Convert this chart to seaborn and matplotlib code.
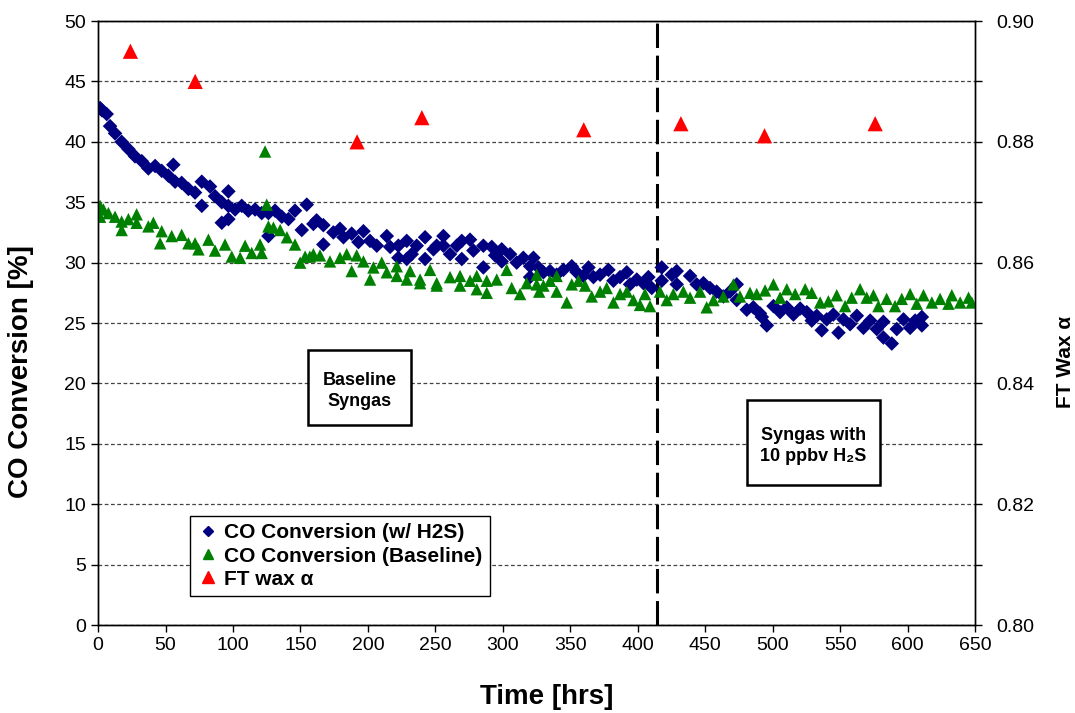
import matplotlib
matplotlib.use("Agg")
import matplotlib.pyplot as plt
import seaborn as sns
import pandas as pd
from matplotlib.lines import Line2D
from matplotlib.patches import Rectangle
from matplotlib.ticker import MultipleLocator, FormatStrFormatter

sns.set_style("ticks")
plt.rcParams['font.family'] = ['Liberation Sans', 'DejaVu Sans']
plt.rcParams['text.color'] = 'black'
plt.rcParams['axes.labelcolor'] = 'black'
plt.rcParams['xtick.color'] = 'black'
plt.rcParams['ytick.color'] = 'black'

# ---------------- data ----------------
h2s_time = [1.5, 3, 6.4, 8.9, 12.6, 17.5, 22.5, 27.4, 32.4, 37.3, 42.3, 47.2, 52.1, 55.8, 57.1,
            62, 67, 71.9, 76.9, 76.9, 83, 86.7, 91.7, 91.7, 96.6, 96.6, 96.6, 101.6, 106.5, 111.4,
            116.4, 121.3, 126.3, 126.3, 131.2, 136.2, 141.1, 146, 151, 154.7, 159.6, 162, 167, 167,
            174.4, 179.3, 181.9, 188, 193, 196.7, 201.6, 206.6, 214, 216.5, 222.6, 222.6, 228.8, 228.8,
            232.5, 236.2, 242.4, 242.4, 248.6, 251, 256, 256, 260.9, 265.9, 269.6, 269.6, 275.7, 278.2,
            285.6, 285.6, 291.8, 294.3, 299.2, 299.2, 305.4, 310.3, 315.2, 320.2, 320.2, 322.7, 326.4,
            330.1, 335, 339.9, 344.9, 351.1, 354.8, 359.7, 363.5, 367.2, 372.1, 378.3, 382, 386.9,
            391.9, 394.3, 399.3, 404.2, 407.9, 410.4, 417.8, 417.8, 425.2, 428.9, 428.9, 438.8, 443.7,
            448.7, 453.6, 458.5, 463.5, 468.4, 473.4, 473.4, 480.8, 485.7, 490.6, 492, 495.7, 500.6,
            505.5, 510.5, 515.4, 520.4, 525.3, 529, 532.7, 536.4, 540.1, 545, 548.8, 552.5, 557.4,
            562.4, 567.3, 572.3, 577.2, 582.1, 582.1, 588.3, 592, 597, 601.9, 605.6, 610.6, 610.6]
h2s_conv = [42.8, 42.6, 42.3, 41.3, 40.7, 40.0, 39.4, 38.8, 38.4, 37.8, 38.0, 37.6, 37.2, 38.1, 36.7,
            36.6, 36.1, 35.8, 36.7, 34.7, 36.3, 35.5, 35.0, 33.3, 35.9, 34.7, 33.6, 34.4, 34.7, 34.3,
            34.4, 34.1, 34.1, 32.2, 34.3, 33.8, 33.6, 34.3, 32.7, 34.8, 33.2, 33.5, 31.5, 33.1,
            32.5, 32.8, 32.1, 32.4, 31.7, 32.6, 31.8, 31.4, 32.2, 31.3, 31.4, 30.4, 31.8, 30.3,
            30.7, 31.4, 32.1, 30.3, 31.1, 31.4, 32.2, 31.4, 30.7, 31.4, 31.8, 30.3, 31.9, 31.0,
            31.4, 29.6, 31.3, 30.6, 31.1, 30.1, 30.7, 30.0, 30.4, 29.7, 28.8, 30.4, 29.6,
            29.2, 29.3, 29.0, 29.4, 29.7, 29.2, 28.9, 29.6, 28.8, 29.0, 29.4, 28.5, 28.8,
            29.2, 28.2, 28.6, 28.3, 28.8, 27.9, 29.6, 28.5, 29.0, 29.3, 28.2, 28.9, 28.2,
            28.3, 27.9, 27.6, 27.2, 27.6, 28.2, 26.9, 26.1, 26.3, 25.8, 25.5, 24.8, 26.4,
            25.9, 26.3, 25.7, 26.2, 25.9, 25.2, 25.6, 24.4, 25.3, 25.7, 24.2, 25.3, 24.9,
            25.6, 24.6, 25.2, 24.5, 25.1, 23.8, 23.3, 24.5, 25.3, 24.6, 25.2, 25.5, 24.8]

base_time = [1.5, 1.5, 4, 7.7, 12.6, 17.5, 17.5, 22.5, 28.6, 28.6, 37.3, 41, 46, 47.2, 54.6, 62, 67,
             71.9, 74.4, 81.8, 86.7, 94.1, 99.1, 105.3, 109, 113.9, 120.1, 121.3, 123.8, 125, 126.3,
             130, 135, 140, 146, 149.8, 153.5, 157, 159.6, 164.5, 171.9, 179.3, 184.3, 188, 191.7,
             196.7, 201.6, 204.1, 210.3, 214, 221.4, 221.4, 228.8, 231.3, 238.7, 238.7, 246.1, 251,
             251, 260.9, 268.3, 268.3, 275.7, 280.7, 280.7, 288.1, 288.1, 295.5, 302.9, 306.6, 312.8,
             317.7, 325.1, 325.1, 327, 330.1, 335, 339.9, 339.9, 347.4, 351.1, 356, 361, 365.9, 372.1,
             377, 382, 386.9, 391.9, 396.8, 401.7, 405.4, 409.1, 416.5, 421.5, 426.4, 433.8, 438.8,
             446.2, 451.1, 456.1, 463.5, 470.9, 475.8, 483.2, 488.2, 494.4, 500.6, 505.5, 510.5,
             516.7, 524.1, 529, 535.2, 541.3, 547.5, 553.7, 558.6, 564.8, 569.7, 574.7, 578.4, 584.5,
             590.7, 595.7, 601.9, 606.8, 611.8, 618, 624.1, 630.3, 632.8, 639, 645.2, 647.6]
base_conv = [34.7, 33.8, 34.4, 34.1, 33.8, 33.4, 32.7, 33.6, 34.0, 33.3, 33.0, 33.3, 31.6, 32.6, 32.2,
             32.3, 31.6, 31.6, 31.1, 31.9, 31.0, 31.5, 30.5, 30.4, 31.4, 30.8, 31.5, 30.8, 39.2, 34.8,
             33.0, 32.9, 32.7, 32.1, 31.5, 30.0, 30.5, 30.5, 30.7, 30.6, 30.1, 30.4, 30.7, 29.3, 30.6,
             30.1, 28.6, 29.6, 30.0, 29.2, 29.7, 28.9, 28.6, 29.3, 28.6, 28.3, 29.4, 28.3,
             28.1, 28.8, 28.9, 28.1, 28.5, 28.9, 27.8, 28.5, 27.5, 28.6, 29.4, 27.9, 27.4,
             28.3, 29.0, 28.2, 27.6, 28.1, 28.5, 28.9, 27.6, 26.7, 28.2, 28.5, 28.1, 27.2, 27.6,
             27.9, 26.7, 27.4, 27.6, 26.9, 26.5, 27.4, 26.4, 27.6, 26.9, 27.4, 27.6, 27.1,
             27.6, 26.3, 26.9, 27.2, 28.2, 27.2, 27.5, 27.4, 27.7, 28.2, 27.1, 27.8,
             27.4, 27.8, 27.5, 26.7, 26.8, 27.3, 26.4, 27.1, 27.8, 27.1, 27.3, 26.4, 27.0,
             26.4, 27.0, 27.4, 26.6, 27.3, 26.7, 27.0, 26.6, 27.3, 26.7, 27.1, 26.7]

alpha_time = [24, 72, 192, 240, 360, 432, 494, 576]
alpha_val = [0.895, 0.890, 0.880, 0.884, 0.882, 0.883, 0.881, 0.883]

switch_time = 414

series_labels = ["CO Conversion (w/ H2S)", "CO Conversion (Baseline)", "FT wax \u03b1"]
box_texts = ["Baseline\nSyngas", "Syngas with\n10 ppbv H\u2082S"]

# ---------------- figure ----------------
fig = plt.figure(figsize=(10.75, 7.13), dpi=100)
ax = fig.add_axes([0.0912, 0.1234, 0.8158, 0.8471])
ax2 = ax.twinx()

df_h2s = pd.DataFrame({"t": h2s_time, "c": h2s_conv})
df_base = pd.DataFrame({"t": base_time, "c": base_conv})
df_alpha = pd.DataFrame({"t": alpha_time, "a": alpha_val})

ax.yaxis.grid(True, linestyle=(0, (3, 2)), color="#444444", linewidth=0.9)
ax.set_axisbelow(True)

sns.scatterplot(data=df_h2s, x="t", y="c", ax=ax, marker="D", color="#000080",
                s=55, edgecolor="none", legend=False, zorder=3)
sns.scatterplot(data=df_base, x="t", y="c", ax=ax, marker="^", color="#008000",
                s=80, edgecolor="none", legend=False, zorder=4)
sns.scatterplot(data=df_alpha, x="t", y="a", ax=ax2, marker="^", color="#FF0000",
                s=120, edgecolor="none", legend=False, zorder=5)

ax.axvline(switch_time, color="black", lw=2.2, linestyle=(0, (8, 2.5)), zorder=2)

ax.set_xlim(0, 650)
ax.set_ylim(0, 50)
ax2.set_ylim(0.80, 0.90)
ax.xaxis.set_major_locator(MultipleLocator(50))
ax.yaxis.set_major_locator(MultipleLocator(5))
ax2.yaxis.set_major_locator(MultipleLocator(0.02))
ax2.yaxis.set_minor_locator(MultipleLocator(0.01))
ax2.yaxis.set_major_formatter(FormatStrFormatter("%.2f"))

for a in (ax, ax2):
    for s in a.spines.values():
        s.set_color("black")
        s.set_linewidth(1.0)
ax.tick_params(axis="both", labelsize=14, direction="out", length=5, width=1, colors="black")
ax2.tick_params(axis="y", which="both", labelsize=14, direction="out", length=5, width=1,
                colors="black")
ax2.tick_params(axis="y", which="major", pad=10)

ax.set_xlabel("Time [hrs]", fontsize=20, fontweight="bold")
ax.set_ylabel("CO Conversion [%]", fontsize=20, fontweight="bold")
ax2.set_ylabel("FT Wax \u03b1", fontsize=15, fontweight="bold")
ax2.set_xlabel("")
ax.xaxis.set_label_coords(0.512, -0.097)
ax.yaxis.set_label_coords(-0.073, 0.42)
ax2.yaxis.set_label_coords(1.092, 0.435)

# annotation boxes
ax.add_patch(Rectangle((0.2395, 0.331), 0.1174, 0.124, transform=ax.transAxes,
                       fill=True, facecolor="white", edgecolor="black", lw=1.8, zorder=6))
ax.text(0.298, 0.387, box_texts[0], transform=ax.transAxes, ha="center", va="center",
        fontsize=13, fontweight="bold", zorder=7, linespacing=1.3)
ax.add_patch(Rectangle((0.740, 0.2318), 0.1517, 0.1407, transform=ax.transAxes,
                       fill=True, facecolor="white", edgecolor="black", lw=1.8, zorder=6))
ax.text(0.816, 0.296, box_texts[1], transform=ax.transAxes, ha="center", va="center",
        fontsize=13, fontweight="bold", zorder=7, linespacing=1.3)

handles = [
    Line2D([], [], marker="D", color="#000080", linestyle="none", markersize=5),
    Line2D([], [], marker="^", color="#008000", linestyle="none", markersize=7),
    Line2D([], [], marker="^", color="#FF0000", linestyle="none", markersize=9),
]
leg = ax.legend(handles, series_labels, loc="lower left", bbox_to_anchor=(0.105, 0.048),
                frameon=True, fancybox=False, edgecolor="black", framealpha=1,
                prop={"weight": "bold", "size": 15}, handlelength=1.0, handletextpad=0.3,
                labelspacing=0.2, borderpad=0.35, borderaxespad=0)
leg.get_frame().set_linewidth(1.0)
leg.set_zorder(8)

fig.savefig("out.png", dpi=100)
